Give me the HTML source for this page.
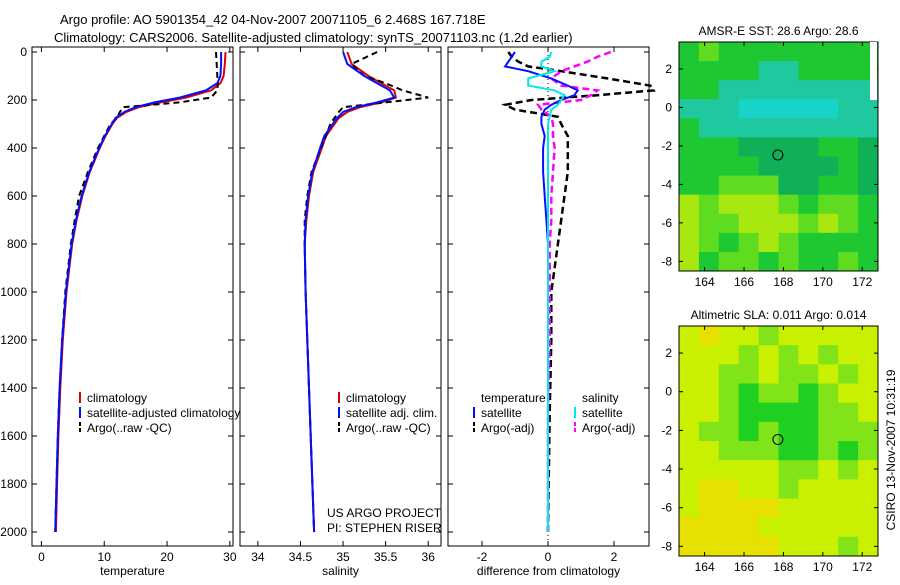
<!DOCTYPE html>
<html><head><meta charset="utf-8"><style>
body{margin:0;background:#fff;font-family:"Liberation Sans",sans-serif}
svg text{font-family:"Liberation Sans",sans-serif;font-size:12px;fill:#000}
</style></head><body>
<svg id="fig" width="900" height="580" xmlns="http://www.w3.org/2000/svg">
<text x="60" y="24" style="font-size:13px">Argo profile: AO 5901354_42 04-Nov-2007 20071105_6 2.468S 167.718E</text>
<text x="54" y="42" style="font-size:13px">Climatology: CARS2006. Satellite-adjusted climatology: synTS_20071103.nc (1.2d earlier)</text>
<g id="plots"></g>
<text transform="translate(895,450) rotate(-90)" text-anchor="middle">CSIRO 13-Nov-2007 10:31:19</text>
</svg>
<script>
const depth=[0,50,100,130,160,190,210,230,250,275,300,350,400,500,600,700,800,1000,1200,1400,1600,1800,2000];
const tempClim=[29.3,29.2,29.0,28.5,27,23,19,15.5,13.5,12,11.3,10.2,9.3,7.7,6.5,5.6,4.9,4.0,3.4,3.0,2.7,2.5,2.3];
const tempSat=[28.6,28.6,28.5,28.0,26.2,22,18,15,13.2,11.8,11.2,10.1,9.2,7.6,6.4,5.5,4.8,3.9,3.3,2.9,2.6,2.4,2.2];
const tempArgo=[27.8,27.9,28.0,28.1,28.0,27,22,13,12.5,12,11.0,10.0,9.0,7.4,6.0,5.3,4.7,3.8,3.3,2.9,2.6,2.4,2.2];
const salClim=[35.05,35.1,35.3,35.45,35.6,35.62,35.45,35.2,35.05,34.95,34.9,34.8,34.75,34.65,34.6,34.57,34.55,34.56,34.58,34.6,34.62,34.64,34.66];
const salSat=[35.0,35.05,35.25,35.4,35.55,35.6,35.4,35.15,35.0,34.93,34.88,34.78,34.73,34.64,34.59,34.56,34.55,34.56,34.58,34.6,34.62,34.64,34.66];
const salArgo=[35.4,35.1,35.25,35.5,35.7,36.0,35.5,35.0,34.95,34.9,34.85,34.8,34.74,34.63,34.58,34.55,34.55,34.56,34.58,34.6,34.62,34.64,34.66];
const diffDepth=[0,20,40,60,80,110,140,160,180,200,220,240,270,300,350,400,500,600,700,800,1000,1200,1500,2000];
const tDiffSat=[-1.0,-1.1,-1.2,-1.3,-0.6,0.1,0.6,0.9,0.8,0.4,0.1,-0.1,-0.2,-0.2,-0.1,-0.15,-0.15,-0.1,-0.05,0,0,0,0,0];
const tDiffArgo=[-1.2,-1.1,-0.9,-0.6,0.4,1.8,3.1,3.2,1.5,-0.5,-1.3,-1.0,0.3,0.4,0.6,0.6,0.6,0.5,0.4,0.3,0.1,0.1,0.05,0];
const sDiffSat=[0.1,0.05,-0.2,-0.2,0.2,-0.6,-0.6,0.2,0.5,0.4,0.3,0.1,0.05,0,0,0,0,0,0,0,0,0,0,0];
const sDiffArgo=[1.9,1.5,1.2,0.8,0.4,0.1,0.4,1.5,1.3,1.0,-0.3,-0.2,0.1,0.15,0.15,0.2,0.15,0.1,0.1,0.05,0.05,0.05,0,0];
const depthTicks=[0,200,400,600,800,1000,1200,1400,1600,1800,2000];
const tempTicks=[0,10,20,30];
const salTicks=[34,34.5,35,35.5,36];
const diffTicks=[-2,0,2];
const sstGrid=["GLGGGGGGGG","GGGGCCGGGG","GGCCCCCCCC","CCCTTTTTCC","GCCCCCCCCC","GGGDDDDGGD","GGGGDDDDGD","GGLLLDDGGD","YLYYYLGLLG","YLLYYYLYLG","YLGLYLGGGG","YGLLGLGGLG"];
const slaGrid=["YOYYMYYYYY","YYYMYMYMYY","YYMMYMMYMY","YYMGMMGMYY","YYMGGGGMMY","YMMGMGGMMM","YYMMMGGMGM","YYYYYMMYMY","YOOYYMYYYY","YOOOOYYYYY","OOOOYYYYYY","OOOOOYYYMY"];
const lonTicks=[164,166,168,170,172];
const latTicks=[2,0,-2,-4,-6,-8];
const floatLon=167.72, floatLat=-2.47;

const NS="http://www.w3.org/2000/svg";
const G=document.getElementById('plots');
function mk(t,a,p){const e=document.createElementNS(NS,t);for(const k in a)e.setAttribute(k,a[k]);(p||G).appendChild(e);return e;}
const yTop=47,yBot=546;
const yD=d=>52+d*0.24;
function panel(x0,x1,xmin,xmax,ticks,label,name){
  const xs=v=>x0+(v-xmin)/(xmax-xmin)*(x1-x0);
  const f=mk('rect',{x:x0,y:yTop,width:x1-x0,height:yBot-yTop,fill:'none',stroke:'#000'});
  
  
  ticks.forEach(t=>{const x=xs(t);mk('line',{x1:x,x2:x,y1:yBot,y2:yBot-5,stroke:'#000'});mk('line',{x1:x,x2:x,y1:yTop,y2:yTop+5,stroke:'#000'});
    const tx=mk('text',{x:x,y:yBot+15,'text-anchor':'middle'});tx.textContent=String(t);
    
    });
  depthTicks.forEach(d=>{const y=yD(d);mk('line',{x1:x0,x2:x0+5,y1:y,y2:y,stroke:'#000'});mk('line',{x1:x1,x2:x1-5,y1:y,y2:y,stroke:'#000'});});
  const l=mk('text',{x:(x0+x1)/2,y:yBot+29,'text-anchor':'middle'});l.textContent=label;
  
  
  return xs;
}
function line(xs,vals,deps,color,dash,w,name){
  const pts=vals.map((v,i)=>xs(v).toFixed(1)+','+yD(deps[i]).toFixed(1)).join(' ');
  const p=mk('polyline',{points:pts,fill:'none',stroke:color,'stroke-width':w||2,'stroke-dasharray':dash||'none'});
  
  
}
function legend(x,y,items,name){
  items.forEach((it,i)=>{const yy=y+i*15;
    if(it[1]){mk('line',{x1:x,x2:x,y1:yy-10,y2:yy+1,stroke:it[1],'stroke-width':2,'stroke-dasharray':it[2]?'4,2':'none'});}
    const t=mk('text',{x:x+7,y:yy});t.textContent=it[0];
    
    });
}
depthTicks.forEach(d=>{const t=mk('text',{x:27,y:yD(d)+4,'text-anchor':'end'});t.textContent=String(d);
  
  });
const xT=panel(32,233,-1.5,30.5,tempTicks,'temperature','temperature-panel');
line(xT,tempClim,depth,'#e00000',null,2,'temp-climatology-line');
line(xT,tempArgo,depth,'#000',"6,4",2,'temp-argo-line');
line(xT,tempSat,depth,'#0010ff',null,2,'temp-satellite-line');
legend(80,402,[['climatology','#e00000'],['satellite-adjusted climatology','#0010ff'],['Argo(..raw -QC)','#000',1]],'temp-legend');
const xS=panel(240,441,33.79,36.15,salTicks,'salinity','salinity-panel');
line(xS,salClim,depth,'#e00000',null,2,'sal-climatology-line');
line(xS,salArgo,depth,'#000',"6,4",2,'sal-argo-line');
line(xS,salSat,depth,'#0010ff',null,2,'sal-satellite-line');
legend(339,402,[['climatology','#e00000'],['satellite adj. clim.','#0010ff'],['Argo(..raw -QC)','#000',1]],'sal-legend');
legend(320,517,[['US ARGO PROJECT',null],['PI: STEPHEN RISER',null]],'project');
const xD=panel(448,649,-3.03,3.06,diffTicks,'difference from climatology','difference-panel');
mk('line',{x1:xD(0),x2:xD(0),y1:yTop,y2:yBot,stroke:'#000','stroke-dasharray':'1,3'});
line(xD,tDiffArgo,diffDepth,'#000',"7,4",2.5,'tdiff-argo-line');
line(xD,sDiffArgo,diffDepth,'#ff00ff',"7,4",2.5,'sdiff-argo-line');
line(xD,tDiffSat,diffDepth,'#0010ff',null,2,'tdiff-satellite-line');
line(xD,sDiffSat,diffDepth,'#00e8e8',null,2,'sdiff-satellite-line');
legend(474,402,[['temperature',null],['satellite','#0010ff'],['Argo(-adj)','#000',1]],'tdiff-legend');
legend(575,402,[['salinity',null],['satellite','#00e8e8'],['Argo(-adj)','#ff00ff',1]],'sdiff-legend');
const sstCol={G:'#1ec832',C:'#20c8a0',T:'#18d4c8',D:'#10b058',Y:'#a8e810',L:'#60dc20'};
const slaCol={Y:'#c8f000',O:'#e8e000',M:'#80e418',G:'#20d020',L:'#98e820'};
function map(y0,y1,grid,cols,title,name){
  const x0=679,x1=878,lonMin=162.7,lonMax=172.8,latMax=3.4,latMin=-8.5;
  const xs=v=>x0+(v-lonMin)/(lonMax-lonMin)*(x1-x0);
  const ys=v=>y0+(latMax-v)/(latMax-latMin)*(y1-y0);
  const rows=grid.length,nc=grid[0].length,cw=(x1-x0)/nc,rh=(y1-y0)/rows;
  grid.forEach((r,i)=>{[...r].forEach((c,j)=>{const e=mk('rect',{x:x0+j*cw,y:y0+i*rh,width:cw+0.5,height:rh+0.5,fill:cols[c]});
    
    });});
  const f=mk('rect',{x:x0,y:y0,width:x1-x0,height:y1-y0,fill:'none',stroke:'#000'});
  
  
  lonTicks.forEach(v=>{const x=xs(v);mk('line',{x1:x,x2:x,y1:y1,y2:y1-4,stroke:'#000'});mk('line',{x1:x,x2:x,y1:y0,y2:y0+4,stroke:'#000'});
    const t=mk('text',{x:x,y:y1+15,'text-anchor':'middle'});t.textContent=String(v);
    
    });
  latTicks.forEach(v=>{const y=ys(v);mk('line',{x1:x0,x2:x0+4,y1:y,y2:y,stroke:'#000'});mk('line',{x1:x1,x2:x1-4,y1:y,y2:y,stroke:'#000'});
    const t=mk('text',{x:x0-7,y:y+4,'text-anchor':'end'});t.textContent=String(v);
    
    });
  const c=mk('circle',{cx:xs(floatLon),cy:ys(floatLat),r:5,fill:'none',stroke:'#000'});
  
  
  const t=mk('text',{x:(x0+x1)/2,y:y0-7,'text-anchor':'middle'});t.textContent=title;
  
  
}
map(42,271,sstGrid,sstCol,'AMSR-E SST: 28.6 Argo: 28.6','sst-map');
mk('rect',{x:870,y:42,width:7,height:58,fill:'#fff'});
map(326,556,slaGrid,slaCol,'Altimetric SLA: 0.011 Argo: 0.014','sla-map');
</script>
</body></html>
